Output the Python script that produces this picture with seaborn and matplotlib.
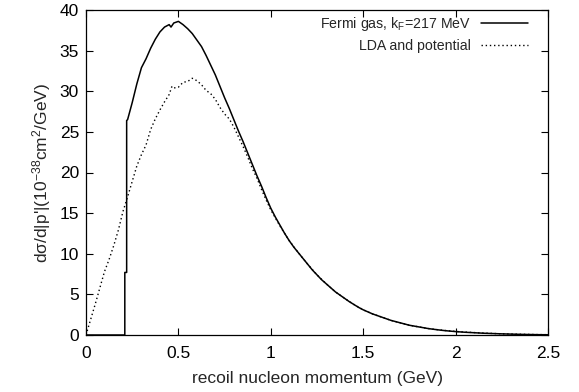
import numpy as np
import pandas as pd
import seaborn as sns
import matplotlib
matplotlib.use("Agg")
import matplotlib.pyplot as plt

# ---- data ----
fermi_p = [0.0, 0.21, 0.21, 0.22, 0.22, 0.225, 0.25, 0.275, 0.30, 0.325, 0.35, 0.375,
           0.40, 0.425, 0.45, 0.46, 0.475, 0.50, 0.525, 0.55, 0.575, 0.60, 0.625,
           0.65, 0.675, 0.70, 0.725, 0.75, 0.775, 0.80, 0.825, 0.85, 0.875, 0.90,
           0.925, 0.95, 0.975, 1.00, 1.025, 1.05, 1.075, 1.10, 1.125, 1.15, 1.175,
           1.20, 1.225, 1.25, 1.275, 1.30, 1.325, 1.35, 1.375, 1.40, 1.425, 1.45,
           1.475, 1.50, 1.525, 1.55, 1.575, 1.60, 1.625, 1.65, 1.675, 1.70, 1.725,
           1.75, 1.775, 1.80, 1.825, 1.85, 1.875, 1.90, 1.925, 1.95, 1.975, 2.00,
           2.05, 2.10, 2.15, 2.20, 2.25, 2.30, 2.35, 2.40, 2.45, 2.50]
fermi_xs = [0.0, 0.0, 7.7, 7.7, 26.4, 26.5, 28.6, 30.9, 32.9, 34.0, 35.3, 36.4,
            37.3, 37.9, 38.2, 37.9, 38.4, 38.6, 38.2, 37.7, 37.1, 36.3, 35.5,
            34.4, 33.2, 32.0, 30.6, 29.2, 27.9, 26.5, 25.1, 23.8, 22.4, 21.0,
            19.6, 18.3, 16.9, 15.6, 14.5, 13.5, 12.5, 11.6, 10.8, 10.1, 9.4,
            8.7, 8.0, 7.4, 6.8, 6.3, 5.8, 5.3, 4.9, 4.5, 4.1, 3.75,
            3.4, 3.1, 2.85, 2.6, 2.4, 2.2, 2.0, 1.8, 1.65, 1.5, 1.35,
            1.2, 1.1, 1.0, 0.9, 0.8, 0.72, 0.65, 0.58, 0.52, 0.47, 0.42,
            0.34, 0.28, 0.22, 0.18, 0.14, 0.11, 0.08, 0.06, 0.04, 0.03]

lda_p = [0.0, 0.025, 0.05, 0.075, 0.10, 0.125, 0.15, 0.175, 0.20, 0.225, 0.25,
         0.275, 0.30, 0.325, 0.35, 0.375, 0.40, 0.425, 0.45, 0.465, 0.475, 0.50,
         0.525, 0.55, 0.575, 0.60, 0.625, 0.65, 0.675, 0.70, 0.725, 0.75, 0.775,
         0.80, 0.825, 0.85, 0.875, 0.90, 0.925, 0.95, 0.975, 1.00, 1.025, 1.05,
         1.10, 1.15, 1.20, 1.25, 1.30, 1.35, 1.40, 1.45, 1.50, 1.55, 1.60, 1.65,
         1.70, 1.75, 1.80, 1.85, 1.90, 1.95, 2.00, 2.05, 2.10, 2.15, 2.20, 2.25,
         2.30, 2.35, 2.40, 2.45, 2.50]
lda_xs = [0.0, 1.9, 3.8, 5.8, 7.8, 9.3, 11.0, 12.9, 15.2, 17.0, 18.9,
          20.8, 22.2, 23.4, 25.3, 26.6, 27.7, 28.7, 29.6, 30.6, 30.4, 30.5,
          31.1, 31.2, 31.6, 31.3, 30.8, 30.1, 29.7, 29.0, 28.0, 27.2, 26.6,
          25.6, 24.4, 23.2, 21.9, 20.5, 19.3, 17.9, 16.6, 15.4, 14.4, 13.4,
          11.6, 10.1, 8.7, 7.4, 6.3, 5.3, 4.5, 3.75, 3.1, 2.6, 2.2, 1.8,
          1.5, 1.2, 1.0, 0.8, 0.66, 0.54, 0.44, 0.36, 0.30, 0.24, 0.19, 0.15,
          0.12, 0.09, 0.07, 0.05, 0.04]

labels = ["Fermi gas, k$_{F}$=217 MeV", "LDA and potential"]

df_f = pd.DataFrame({"p": fermi_p, "xs": fermi_xs})
df_l = pd.DataFrame({"p": lda_p, "xs": lda_xs})

sns.set_style("ticks")
plt.rcParams["font.family"] = ["Liberation Sans", "DejaVu Sans"]
plt.rcParams["mathtext.default"] = "regular"
plt.rcParams["font.size"] = 12.5

fig = plt.figure(figsize=(5.79, 3.92), dpi=100)
ax = fig.add_axes([86 / 579, 1 - 335 / 392, (548 - 86) / 579, (335 - 10) / 392])

sns.lineplot(data=df_f, x="p", y="xs", sort=False, estimator=None, ax=ax,
             color="black", linewidth=1.1, label=labels[0])
sns.lineplot(data=df_l, x="p", y="xs", sort=False, estimator=None, ax=ax,
             color="black", linewidth=1.0, linestyle=(0, (1, 2)), label=labels[1])

ax.set_xlim(0, 2.5)
ax.set_ylim(0, 40)
ax.set_xticks([0, 0.5, 1, 1.5, 2, 2.5])
ax.set_xticklabels(["0", "0.5", "1", "1.5", "2", "2.5"])
ax.set_yticks(range(0, 41, 5))
ax.tick_params(axis="both", direction="in", length=5, width=0.8, top=True, right=True,
               labelsize=12.5, colors="black")
ax.tick_params(axis="x", pad=8)
ax.tick_params(axis="y", pad=5)
for s in ax.spines.values():
    s.set_linewidth(0.9)
    s.set_color("black")

ax.set_xlabel("recoil nucleon momentum (GeV)", fontsize=12.5, labelpad=7)
ax.set_ylabel("d\u03c3/d|p'|(10$^{-38}$cm$^{2}$/GeV)", fontsize=12.5, labelpad=5)

leg = ax.legend(loc="upper right", bbox_to_anchor=(0.957, 0.985), frameon=False,
                markerfirst=False, handlelength=3.35, fontsize=10.2, borderaxespad=0,
                borderpad=0, labelspacing=0.45, handletextpad=0.7)

fig.savefig("out.png", dpi=100)
